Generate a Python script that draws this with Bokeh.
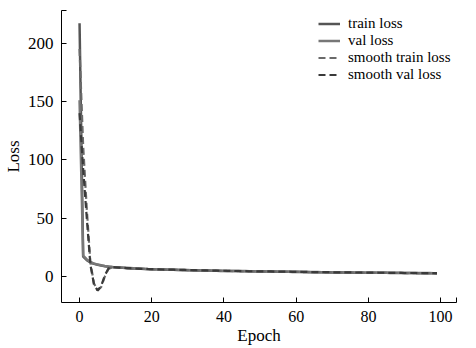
from bokeh.plotting import figure
from bokeh.models import Range1d, FixedTicker, Legend, LegendItem
from bokeh.embed import file_html
from bokeh.resources import INLINE

epochs = list(range(100))

train_loss = [217, 17.0, 14.0, 12.0, 10.8, 10.0, 9.3, 8.8, 8.4, 8.1,
              7.8, 7.6, 7.4, 7.2, 7.0, 6.9, 6.7, 6.6, 6.4, 6.3,
              6.2, 6.1, 6.0, 5.9, 5.8, 5.8, 5.7, 5.6, 5.5, 5.5,
              5.4, 5.3, 5.3, 5.2, 5.1, 5.1, 5.0, 5.0, 4.9, 4.8,
              4.8, 4.7, 4.7, 4.6, 4.6, 4.5, 4.5, 4.4, 4.4, 4.3,
              4.3, 4.3, 4.2, 4.2, 4.1, 4.1, 4.0, 4.0, 4.0, 3.9,
              3.9, 3.9, 3.8, 3.8, 3.7, 3.7, 3.7, 3.6, 3.6, 3.6,
              3.5, 3.5, 3.5, 3.4, 3.4, 3.4, 3.3, 3.3, 3.3, 3.2,
              3.2, 3.2, 3.2, 3.1, 3.1, 3.1, 3.0, 3.0, 3.0, 3.0,
              2.9, 2.9, 2.9, 2.9, 2.8, 2.8, 2.8, 2.8, 2.7, 2.7]

val_loss = [151, 18.0, 14.6, 12.4, 11.1, 10.2, 9.6, 9.0, 8.6, 8.2,
            8.0, 7.7, 7.5, 7.3, 7.2, 7.0, 6.8, 6.7, 6.6, 6.4,
            6.3, 6.2, 6.1, 6.0, 5.9, 5.9, 5.8, 5.7, 5.6, 5.6,
            5.5, 5.4, 5.4, 5.3, 5.2, 5.2, 5.1, 5.1, 5.0, 4.9,
            4.9, 4.8, 4.8, 4.7, 4.7, 4.6, 4.6, 4.5, 4.5, 4.4,
            4.4, 4.4, 4.3, 4.3, 4.2, 4.2, 4.1, 4.1, 4.1, 4.0,
            4.0, 4.0, 3.9, 3.9, 3.8, 3.8, 3.8, 3.7, 3.7, 3.7,
            3.6, 3.6, 3.6, 3.5, 3.5, 3.5, 3.4, 3.4, 3.4, 3.3,
            3.3, 3.3, 3.3, 3.2, 3.2, 3.2, 3.1, 3.1, 3.1, 3.1,
            3.0, 3.0, 3.0, 3.0, 2.9, 2.9, 2.9, 2.9, 2.8, 2.8]

smooth_train_loss = [195, 112, 58, 12, -6, -12, -9, 0, 6.5, 7.8,
                     7.7, 7.5, 7.3, 7.1, 7.0, 6.8, 6.7, 6.5, 6.4, 6.3,
                     6.2, 6.1, 6.0, 5.9, 5.8, 5.7, 5.7, 5.6, 5.5, 5.4,
                     5.4, 5.3, 5.3, 5.2, 5.1, 5.1, 5.0, 5.0, 4.9, 4.8,
                     4.8, 4.7, 4.7, 4.6, 4.6, 4.5, 4.5, 4.4, 4.4, 4.3,
                     4.3, 4.3, 4.2, 4.2, 4.1, 4.1, 4.0, 4.0, 4.0, 3.9,
                     3.9, 3.9, 3.8, 3.8, 3.7, 3.7, 3.7, 3.6, 3.6, 3.6,
                     3.5, 3.5, 3.5, 3.4, 3.4, 3.4, 3.3, 3.3, 3.3, 3.2,
                     3.2, 3.2, 3.2, 3.1, 3.1, 3.1, 3.0, 3.0, 3.0, 3.0,
                     2.9, 2.9, 2.9, 2.9, 2.8, 2.8, 2.8, 2.8, 2.7, 2.7]

smooth_val_loss = [140, 92, 50, 10, -7, -12, -8, 1, 6.8, 8.0,
                   7.9, 7.6, 7.4, 7.2, 7.1, 6.9, 6.8, 6.6, 6.5, 6.4,
                   6.3, 6.2, 6.1, 6.0, 5.9, 5.9, 5.8, 5.7, 5.6, 5.6,
                   5.5, 5.4, 5.4, 5.3, 5.2, 5.2, 5.1, 5.1, 5.0, 4.9,
                   4.9, 4.8, 4.8, 4.7, 4.7, 4.6, 4.6, 4.5, 4.5, 4.4,
                   4.4, 4.4, 4.3, 4.3, 4.2, 4.2, 4.1, 4.1, 4.1, 4.0,
                   4.0, 4.0, 3.9, 3.9, 3.8, 3.8, 3.8, 3.7, 3.7, 3.7,
                   3.6, 3.6, 3.6, 3.5, 3.5, 3.5, 3.4, 3.4, 3.4, 3.3,
                   3.3, 3.3, 3.3, 3.2, 3.2, 3.2, 3.1, 3.1, 3.1, 3.1,
                   3.0, 3.0, 3.0, 3.0, 2.9, 2.9, 2.9, 2.9, 2.8, 2.8]

X_MIN, X_MAX = -5, 104.4
Y_MIN, Y_MAX = -22.3, 228
x_ticks = [0, 20, 40, 60, 80, 100]
y_ticks = [0, 50, 100, 150, 200]
series_labels = ["train loss", "val loss", "smooth train loss", "smooth val loss"]

FONT = "Liberation Serif"

p = figure(width=476, height=348, output_backend="svg", toolbar_location=None,
           x_range=Range1d(X_MIN, X_MAX), y_range=Range1d(Y_MIN, Y_MAX),
           min_border_left=61, min_border_right=20, min_border_top=10,
           min_border_bottom=46, background_fill_color="white",
           border_fill_color="white")
p.outline_line_color = None
p.grid.visible = False

r1 = p.line(epochs, train_loss, line_color="#555555", line_width=2.5)
r2 = p.line(epochs, val_loss, line_color="#777777", line_width=2.5)
r3 = p.line(epochs, smooth_train_loss, line_color="#6a6a6a", line_width=2.2,
            line_dash="7 4")
r4 = p.line(epochs, smooth_val_loss, line_color="#3a3a3a", line_width=2.2,
            line_dash="7 4")

for ax in (p.xaxis[0], p.yaxis[0]):
    ax.axis_line_color = "black"
    ax.axis_line_width = 1
    ax.major_tick_in = 5
    ax.major_tick_out = 0
    ax.major_tick_line_color = "black"
    ax.minor_tick_line_color = None
    ax.major_label_text_font = FONT
    ax.major_label_text_color = "black"
    ax.axis_label_text_font = FONT
    ax.axis_label_text_font_size = "17px"
    ax.axis_label_text_font_style = "normal"
    ax.axis_label_text_color = "black"

p.xaxis.major_label_text_font_size = "16px"
p.yaxis.major_label_text_font_size = "17px"
p.xaxis.ticker = FixedTicker(ticks=x_ticks + [X_MAX])
p.yaxis.ticker = FixedTicker(ticks=y_ticks + [Y_MAX])
p.xaxis.major_label_overrides = {X_MAX: ""}
p.yaxis.major_label_overrides = {Y_MAX: ""}
p.xaxis.axis_label = "Epoch"
p.yaxis.axis_label = "Loss"
p.xaxis.major_label_standoff = 8
p.xaxis.axis_label_standoff = 1
p.yaxis.major_label_standoff = 8
p.yaxis.axis_label_standoff = 2

renderers = [r1, r2, r3, r4]
row_centers = [13, 30, 47, 64]
frame_h = 292
h = 17
for lab, r, c in zip(series_labels, renderers, row_centers):
    top = c - h / 2
    leg = Legend(items=[LegendItem(label=lab, renderers=[r])],
                 location=(257, frame_h - top - h),
                 padding=0, margin=0, spacing=0,
                 glyph_width=22, glyph_height=h, label_height=h,
                 label_standoff=8,
                 label_text_font=FONT, label_text_font_size="15px",
                 label_text_color="black",
                 background_fill_alpha=0, border_line_color=None)
    p.add_layout(leg, "center")

open("out.html", "w").write(file_html(p, INLINE))
